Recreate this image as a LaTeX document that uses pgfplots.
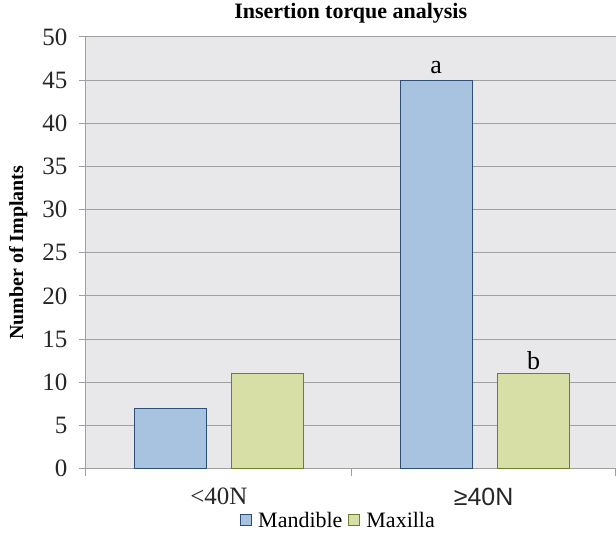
\documentclass[border=0pt]{standalone}
\usepackage{fontspec}
\setmainfont{Liberation Serif}
\newfontfamily\sansf{Liberation Sans}
\usepackage{pgfplots}
\pgfplotsset{compat=1.18}
\definecolor{mandfill}{RGB}{167,195,224}
\definecolor{manddraw}{RGB}{45,78,118}
\definecolor{maxfill}{RGB}{215,223,166}
\definecolor{maxdraw}{RGB}{110,125,50}
\definecolor{bgc}{RGB}{232,232,234}
\definecolor{gridc}{RGB}{160,160,160}
\begin{document}
\begin{tikzpicture}
\begin{axis}[
  scale only axis, width=530pt, height=432pt,
  xmin=-0.5, xmax=1.4925, ymin=0, ymax=50,
  ytick={0,5,...,50},
  xtick={-0.5,0.5,1.4925},
  x tick label as interval,
  xticklabels={{\rmfamily <40N},{\sansf ≥40N}},
  axis background/.style={fill=bgc},
  ymajorgrids, grid style={gridc, line width=1pt},
  axis x line*=bottom, axis y line*=left,
  axis line style={-, gridc, line width=1pt},
  tick align=outside,
  major tick length=7pt,
  tick style={gridc, line width=1pt},
  /pgf/number format/assume math mode=true,
  yticklabel style={font=\fontsize{25}{25}\selectfont, color=black!85, xshift=-8pt},
  xticklabel style={font=\fontsize{25}{25}\selectfont, color=black!85, yshift=-9pt},
  title={\textbf{Insertion torque analysis}},
  title style={font=\fontsize{22}{22}\selectfont, at={(0.5,1)}, anchor=base, yshift=12pt},
  ylabel={\textbf{Number of Implants}},
  every axis y label/.style={at={(axis description cs:-0.128,0.5)}, rotate=90, anchor=center, font=\fontsize{20}{20}\selectfont},
  legend style={at={(0.477,-0.12)}, anchor=center, draw=none, fill=none, legend columns=2,
    font=\fontsize{22}{22}\selectfont, column sep=4pt, inner sep=0pt},
  legend image code/.code={\draw[#1, line width=1pt] (0pt,-5pt) rectangle (11pt,6pt);},
  legend cell align=left,
]
\addplot[ybar, bar width=0.27, bar shift=-0.182, fill=mandfill, draw=manddraw, line width=1.2pt]
  coordinates {(0,7) (1,45)};
\addplot[ybar, bar width=0.27, bar shift=0.184, fill=maxfill, draw=maxdraw, line width=1.2pt]
  coordinates {(0,11) (1,11)};
\legend{Mandible,Maxilla}
\node[anchor=base, font=\fontsize{26}{26}\selectfont, yshift=7pt] at (axis cs:0.818,45) {a};
\node[anchor=base, font=\fontsize{26}{26}\selectfont, yshift=4pt] at (axis cs:1.184,11) {b};
\end{axis}
\path ([shift={(-86pt,-67pt)}]current axis.south west) rectangle ++(616pt,536pt);
\end{tikzpicture}
\end{document}
